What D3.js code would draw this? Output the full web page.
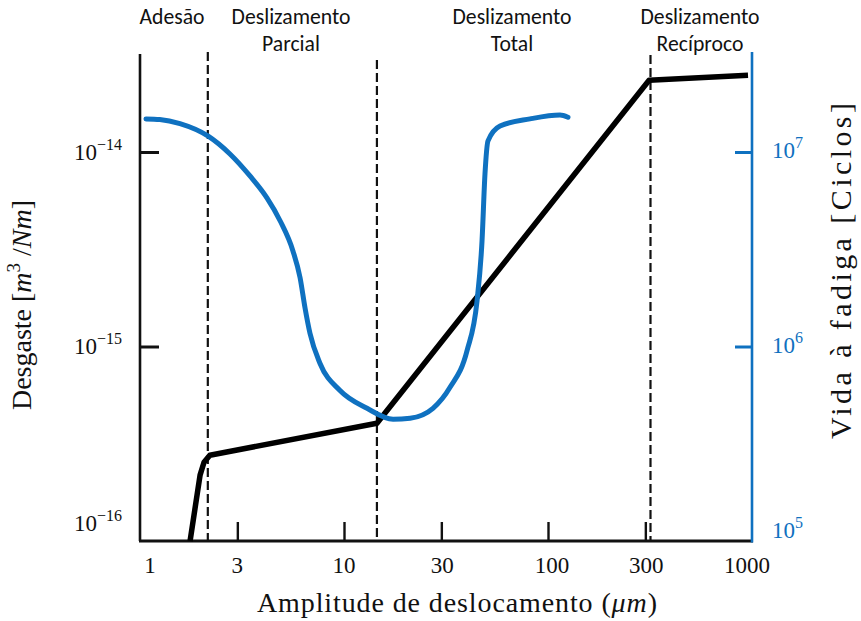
<!DOCTYPE html>
<html><head><meta charset="utf-8">
<script src="https://cdn.jsdelivr.net/npm/d3@7"></script>
<style>
body{margin:0;background:#fff;}
svg{display:block;}
</style></head>
<body>
<svg id="c" width="861" height="621"></svg>
<script>
// ---- data ----
const xTicks = [1, 3, 10, 30, 100, 300, 1000];
const xTickLabels = ["1", "3", "10", "30", "100", "300", "1000"];
const wearTicks = [1e-16, 1e-15, 1e-14];
const wearTickExp = ["−16", "−15", "−14"];
const lifeTicks = [1e5, 1e6, 1e7];
const lifeTickExp = ["5", "6", "7"];
const regimeBounds = [2.15, 14.5, 318];
const regimeNames = [["Adesão"], ["Deslizamento", "Parcial"], ["Deslizamento", "Total"], ["Deslizamento", "Recíproco"]];
const regimeCenters = [1.435, 5.5, 66.6, 556];
// wear rate (m^3/Nm) vs amplitude (µm)
const wearAmp  = [1.76, 1.97, 2.06, 2.20, 14.5, 313, 956];
const wearRate = [1e-16, 2.18e-16, 2.54e-16, 2.76e-16, 4.03e-16, 2.34e-14, 2.48e-14];
// fatigue life (cycles) vs amplitude (µm)
const lifeAmp = [1.07, 1.25, 1.57, 2.15, 2.76, 3.46, 4.19, 4.86, 5.62, 6.09, 6.44, 6.81, 7.63, 9.56, 12.97, 17.4, 21.1, 27.3, 33.1, 40.1, 44.9, 47.5, 49.1, 50.8, 58.2, 81.6, 114.5, 125.3];
const lifeCyc = [1.48e7, 1.47e7, 1.40e7, 1.21e7, 9.77e6, 7.53e6, 5.81e6, 4.43e6, 3.10e6, 2.26e6, 1.58e6, 1.17e6, 8.18e5, 5.94e5, 4.81e5, 4.23e5, 4.28e5, 4.81e5, 6.17e5, 9.53e5, 1.72e6, 3.50e6, 7.71e6, 1.14e7, 1.36e7, 1.48e7, 1.55e7, 1.51e7];

// ---- layout ----
const BLUE = "#0f71c0";
const SERIF = '"Liberation Serif"';
const SANS = 'Carlito';
const svg = d3.select("#c");
const x = d3.scaleLog().domain([1, 1000]).range([140, 752]);
const yL = d3.scaleLog().domain([1e-16, 1e-14]).range([541, 152]);
const yR = d3.scaleLog().domain([1e5, 1e7]).range([541, 152]);
const TOP = 53, BOT = 541;

// dashed regime boundaries
const dashTops = [52, 60, 55];
svg.selectAll("line.reg").data(regimeBounds).join("line")
  .attr("x1", d => x(d)).attr("x2", d => x(d))
  .attr("y1", (d, i) => dashTops[i]).attr("y2", BOT)
  .attr("stroke", "#111").attr("stroke-width", 2.2).attr("stroke-dasharray", "9,4");

// bottom axis
const gx = svg.append("g").attr("transform", `translate(0,${BOT})`)
  .call(d3.axisBottom(x).tickValues(xTicks.slice(1, -1)).tickSize(-19).tickFormat(""));
gx.select(".domain").remove();
gx.selectAll(".tick line").attr("stroke", "#111").attr("stroke-width", 2.4);
svg.append("line").attr("x1", 139).attr("x2", 753).attr("y1", BOT).attr("y2", BOT)
  .attr("stroke", "#111").attr("stroke-width", 3);

// left axis
const gl = svg.append("g").attr("transform", "translate(140,0)")
  .call(d3.axisLeft(yL).tickValues(wearTicks.slice(1)).tickSize(-19).tickFormat(""));
gl.select(".domain").remove();
gl.selectAll(".tick line").attr("stroke", "#111").attr("stroke-width", 3);
svg.append("line").attr("x1", 140).attr("x2", 140).attr("y1", TOP + 1).attr("y2", BOT)
  .attr("stroke", "#111").attr("stroke-width", 2.6);

// right axis
const gr = svg.append("g").attr("transform", "translate(752,0)")
  .call(d3.axisRight(yR).tickValues(lifeTicks.slice(1)).tickSize(-17).tickFormat(""));
gr.select(".domain").remove();
gr.selectAll(".tick line").attr("stroke", BLUE).attr("stroke-width", 3);
svg.append("line").attr("x1", 752).attr("x2", 752).attr("y1", TOP - 1).attr("y2", BOT + 1.5)
  .attr("stroke", BLUE).attr("stroke-width", 2.6);

// x tick labels
const xLabOff = [10, 0, 0, 1, 4, 1, -5];
svg.selectAll("text.xl").data(xTicks).join("text")
  .style("font-family", SERIF).style("font-size", "23px")
  .attr("x", (d, i) => x(d) + xLabOff[i]).attr("y", 573)
  .attr("text-anchor", "middle").attr("fill", "#111")
  .text((d, i) => xTickLabels[i]);

// left tick labels
const lOff = [-10, 7, 8];
wearTicks.forEach((d, i) => {
  const t = svg.append("text").style("font-family", SERIF).style("font-size", "23px")
    .attr("x", 122).attr("y", yL(d) + lOff[i])
    .attr("text-anchor", "end").attr("fill", "#111");
  t.append("tspan").text("10");
  t.append("tspan").attr("dy", -10).style("font-size", "16px").text(wearTickExp[i]);
});
// right tick labels
const rOff = [-3, 6, 6];
lifeTicks.forEach((d, i) => {
  const t = svg.append("text").style("font-family", SERIF).style("font-size", "23px")
    .attr("x", 772).attr("y", yR(d) + rOff[i]).attr("fill", BLUE);
  t.append("tspan").text("10");
  t.append("tspan").attr("dy", -10).style("font-size", "16px").text(lifeTickExp[i]);
});

// regime labels
let sansSize = 19;
{
  const probe = svg.append("text").style("font-family", SANS).style("font-size", "20px").text("Deslizamento");
  const w = probe.node().getComputedTextLength();
  if (w > 0) sansSize = 20 * 119 / w;
  probe.remove();
}
regimeNames.forEach((lines, i) => {
  lines.forEach((s, j) => {
    svg.append("text").style("font-family", SANS).style("font-size", sansSize + "px")
      .attr("x", x(regimeCenters[i])).attr("y", 24 + j * 27)
      .attr("text-anchor", "middle").attr("fill", "#111")
      .text(s);
  });
});

// wear line
svg.append("path")
  .datum(wearAmp.map((a, i) => [a, wearRate[i]]))
  .attr("d", d3.line().x(d => x(d[0])).y(d => yL(d[1])))
  .attr("fill", "none").attr("stroke", "#000").attr("stroke-width", 5.5)
  .attr("stroke-linejoin", "round");

// fatigue line
svg.append("path")
  .datum(lifeAmp.map((a, i) => [a, lifeCyc[i]]))
  .attr("d", d3.line().curve(d3.curveMonotoneX).x(d => x(d[0])).y(d => yR(d[1])))
  .attr("fill", "none").attr("stroke", BLUE).attr("stroke-width", 5)
  .attr("stroke-linecap", "round").attr("stroke-linejoin", "round");

// axis titles
const xt = svg.append("text").style("font-family", SERIF).style("font-size", "28px")
  .attr("x", 457).attr("y", 612).attr("text-anchor", "middle").attr("fill", "#111")
  .attr("textLength", 400).attr("lengthAdjust", "spacing");
xt.append("tspan").text("Amplitude de deslocamento (");
xt.append("tspan").style("font-style", "italic").text("μm");
xt.append("tspan").text(")");

const lt = svg.append("text").style("font-family", SERIF).style("font-size", "28px")
  .attr("transform", "translate(31,305) rotate(-90)").attr("text-anchor", "middle").attr("fill", "#111");
lt.append("tspan").text("Desgaste [");
lt.append("tspan").style("font-style", "italic").text("m");
lt.append("tspan").style("font-size", "19px").attr("dy", -11).text("3");
lt.append("tspan").attr("dy", 11).text(" /");
lt.append("tspan").style("font-style", "italic").text("Nm");
lt.append("tspan").text("]");

const rt = svg.append("text").style("font-family", SERIF).style("font-size", "30px")
  .attr("transform", "translate(851,271) rotate(-90)").attr("text-anchor", "middle").attr("fill", "#111")
  .attr("textLength", 336).attr("lengthAdjust", "spacing")
  .text("Vida à fadiga [Ciclos]");
</script>
</body></html>
